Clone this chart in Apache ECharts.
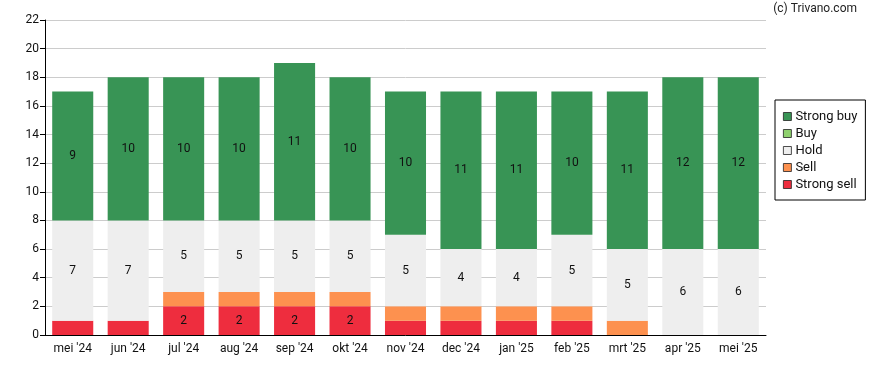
<!DOCTYPE html>
<html><head><meta charset="utf-8">
<script src="https://cdn.jsdelivr.net/npm/echarts@6/dist/echarts.min.js"></script>
<style>html,body{margin:0;padding:0;background:#fff}#c{width:888px;height:370px}</style>
</head><body><div id="c"></div>
<script>
var categories = ["mei '24","jun '24","jul '24","aug '24","sep '24","okt '24","nov '24","dec '24","jan '25","feb '25","mrt '25","apr '25","mei '25"];
var strongSell = [1,1,2,2,2,2,1,1,1,1,0,0,0];
var sell       = [0,0,1,1,1,1,1,1,1,1,1,0,0];
var hold       = [7,7,5,5,5,5,5,4,4,5,5,6,6];
var buy        = [0,0,0,0,0,0,0,0,0,0,0,0,0];
var strongBuy  = [9,10,10,10,11,10,10,11,11,10,11,12,12];
var yTicks = {min:0, max:22, interval:2};

var font = 'Roboto';
function mk(name, data, color){
  return {name:name, type:'bar', stack:'a', data:data, barWidth:'74%',
    itemStyle:{color:color},
    label:{show:true, position:'inside', color:'#111', fontFamily:font, fontSize:12,
      formatter:function(p){return p.value>=2 ? String(p.value) : '';}}};
}
var chart = echarts.init(document.getElementById('c'), null, {renderer:'canvas'});
chart.setOption({
  animation:false,
  textStyle:{fontFamily:font},
  graphic:[{type:'text', right:31, top:3, style:{text:'(c) Trivano.com', font:'12px Roboto', fill:'#222'}}],
  legend:{orient:'vertical', left:775, top:100, itemWidth:8, itemHeight:8, itemGap:4,
    padding:[10,8,9,8], borderColor:'#000', borderWidth:1, borderRadius:0,
    icon:'rect',
    textStyle:{fontFamily:font, fontSize:13, color:'#111', padding:[0,0,0,-1]},
    itemStyle:{borderColor:'#222', borderWidth:0.8},
    data:['Strong buy','Buy','Hold','Sell','Strong sell']},
  grid:{left:45, right:122, top:20, bottom:35, containLabel:false},
  xAxis:{type:'category', data:categories,
    axisLine:{lineStyle:{color:'#000', width:1}},
    axisTick:{alignWithLabel:true, length:5, lineStyle:{color:'#000'}},
    axisLabel:{color:'#111', fontSize:12, fontFamily:font, margin:8}},
  yAxis:{type:'value', min:yTicks.min, max:yTicks.max, interval:yTicks.interval,
    axisLine:{show:true, lineStyle:{color:'#000'}},
    axisTick:{show:true, length:5, lineStyle:{color:'#000'}},
    axisLabel:{color:'#111', fontSize:12, fontFamily:font, margin:6},
    splitLine:{lineStyle:{color:'#cccccc'}}},
  series:[
    mk('Strong sell', strongSell, '#ee2d3e'),
    mk('Sell', sell, '#fd914f'),
    mk('Hold', hold, '#eeeeee'),
    mk('Buy', buy, '#8fd16e'),
    mk('Strong buy', strongBuy, '#389455')
  ]
});
</script></body></html>
